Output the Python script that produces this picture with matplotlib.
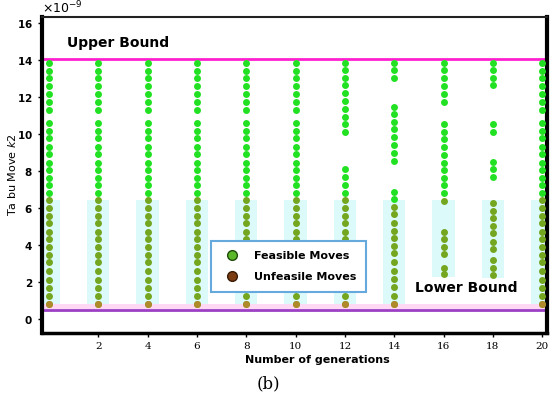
import matplotlib
matplotlib.use('Agg')
import matplotlib.pyplot as plt
from matplotlib.lines import Line2D

# data (values x 1e-9)
generations = [0, 2, 4, 6, 8, 10, 12, 14, 16, 18, 20]

full_col = [13.82, 13.41, 13.01, 12.59, 12.14, 11.71, 11.30, 10.61, 10.18, 9.77,
            9.32, 8.90, 8.45, 8.05, 7.64, 7.24, 6.83, 6.43, 6.02, 5.59, 5.17,
            4.72, 4.31, 3.91, 3.46, 3.06, 2.59, 2.11, 1.66, 1.23, 0.81]
col_12 = [13.82, 13.46, 13.05, 12.62, 12.20, 11.79, 11.36, 10.94, 10.55, 10.13,
          8.09, 7.66, 7.24, 6.83, 6.43, 6.02, 5.59, 5.17, 4.72, 4.31, 3.91,
          3.46, 3.06, 2.59, 2.11, 1.66, 1.23, 0.81]
col_14 = [13.82, 13.46, 13.05, 11.48, 11.08, 10.66, 10.25, 9.82, 9.41, 8.96,
          8.56, 6.88, 6.49, 6.07, 5.66, 5.21, 4.76, 4.36, 3.95, 3.55, 3.06,
          2.59, 2.15, 1.71, 1.24, 0.81]
col_16 = [13.82, 13.44, 13.00, 12.58, 12.16, 11.74, 10.54, 10.13, 9.71, 9.28,
          8.86, 8.45, 8.05, 7.64, 7.24, 6.83, 6.40, 4.72, 4.31, 3.91, 3.51,
          2.74, 2.42]
col_18 = [13.82, 13.44, 13.00, 12.62, 10.54, 10.13, 8.50, 8.09, 7.66, 6.25,
          5.84, 5.44, 5.03, 4.63, 4.18, 3.77, 3.19, 2.74, 2.38]
moves = [full_col, full_col, full_col, full_col, full_col, full_col,
         col_12, col_14, col_16, col_18, full_col]

upper_bound = 14.05
lower_bound = 0.5
split_level = 6.45

fig = plt.figure(figsize=(5.5, 3.93), dpi=100)
ax = fig.add_axes([0.0764, 0.1527, 0.918, 0.804])
s = 1e-9

# light cyan bands behind the lower dots
for g, col in zip(generations, moves):
    lo = min(col)
    ax.fill_between([g - 0.45, g + 0.45], (lo - 0.15) * s, split_level * s,
                    color='#dcfafa', lw=0, zorder=0)

# pink strip above the lower bound
ax.axhspan((lower_bound + 0.02) * s, 0.78 * s, color='#ffd8f4', lw=0, zorder=0)

for g, col in zip(generations, moves):
    hi = [v for v in col if v >= split_level]
    lo = [v for v in col if v < split_level]
    ax.plot([g] * len(hi), [v * s for v in hi], 'o', ms=5, color='#22e122',
            mec='none', zorder=3)
    ax.plot([g] * len(lo), [v * s for v in lo], 'o', ms=5, color='#74a61f',
            mec='none', zorder=3)
    if min(col) < 1.0:
        ax.plot([g], [min(col) * s], 'o', ms=5, color='#b08a2a', mec='none', zorder=4)

ax.axhline(upper_bound * s, color='#ff1fcf', lw=2, zorder=2)
ax.axhline(lower_bound * s, color='#9b40c4', lw=2, zorder=2)

ax.text(0.73, 14.92 * s, 'Upper Bound', fontsize=10, fontweight='bold', va='center')
ax.text(14.84, 1.68 * s, 'Lower Bound', fontsize=10, fontweight='bold', va='center')

ax.set_xlim(-0.28, 20.19)
ax.set_ylim(-0.76 * s, 16.32 * s)
ax.set_xticks(generations[1:])
ax.set_yticks([v * s for v in range(0, 17, 2)])
ax.ticklabel_format(axis='y', style='sci', scilimits=(-9, -9), useMathText=True)
ax.yaxis.get_offset_text().set_fontsize(9)
ax.tick_params(axis='y', labelsize=7.5, length=3, width=1)
ax.tick_params(axis='x', labelsize=7.5, length=3, width=1)
for lab in ax.get_yticklabels():
    lab.set_fontweight('bold')
for lab in ax.get_xticklabels():
    lab.set_family('DejaVu Serif')

ax.spines['left'].set_linewidth(3)
ax.spines['bottom'].set_linewidth(2.5)
ax.spines['right'].set_linewidth(3)
ax.spines['top'].set_linewidth(1.5)
ax.spines['top'].set_color('#222222')

ax.set_ylabel('Ta bu Move $k2$', fontsize=8)
ax.yaxis.set_label_coords(-0.048, 0.5)
ax.set_xlabel('Number of generations', fontsize=8, fontweight='bold')
ax.xaxis.set_label_coords(0.545, -0.07)
fig.text(0.488, 1 - 384 / 393, '(b)', fontsize=12, family='DejaVu Serif',
         ha='center', va='center')

handles = [
    Line2D([], [], ls='none', marker='o', ms=7, color='#5cb82a', mec='#1f4a0a', mew=1),
    Line2D([], [], ls='none', marker='o', ms=7, color='#7b3c12', mec='#3a1a05', mew=1),
]
leg = ax.legend(handles, ['Feasible Moves', 'Unfeasile Moves'],
                loc='lower left', bbox_to_anchor=(0.323, 0.112, 0.33, 0.164),
                mode='expand', fancybox=False, framealpha=1,
                prop={'weight': 'bold', 'size': 8}, borderpad=0.9,
                labelspacing=1.0, handletextpad=1.0)
leg.get_frame().set_edgecolor('#66aadd')
leg.get_frame().set_linewidth(1.5)
leg.set_zorder(5)

fig.savefig('out.png', dpi=100)
